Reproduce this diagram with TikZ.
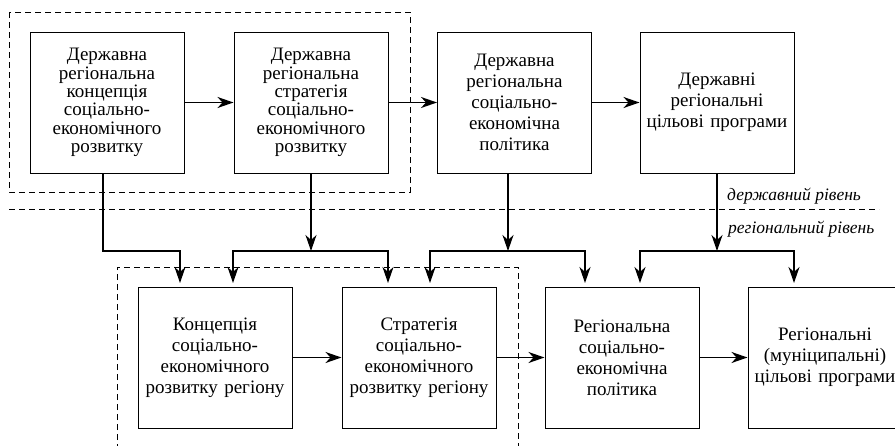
\documentclass[tikz,border=0pt]{standalone}
\usepackage{fontspec}
\setmainfont{Liberation Serif}
\usetikzlibrary{arrows.meta,calc}
\begin{document}
\begin{tikzpicture}[x=1pt,y=-1pt,
  box/.style={draw,line width=1pt,minimum width=154pt,minimum height=141pt,inner sep=0pt,
    text width=152pt,align=center,font=\fontsize{19}{21}\selectfont},
  tight/.style={font=\fontsize{19}{18.3}\selectfont},
  conn/.style={line width=1.6pt},
  arr/.style={conn,-{Stealth[length=16pt,width=11pt,inset=5pt]}},
  grp/.style={line width=0.9pt,dash pattern=on 6pt off 4pt},
  lvl/.style={font=\fontsize{17.5}{18}\selectfont\itshape,inner sep=0pt,anchor=base west}]
\useasboundingbox (0,0) rectangle (895,445);
\begin{scope}
\clip (0,0) rectangle (895,445);
% top row
\node[box,tight] (t1) at (107,102.5) {Державна\\регіональна\\концепція\\соціально-\\економічного\\розвитку};
\node[box,tight] (t2) at (311,102.5) {Державна\\регіональна\\стратегія\\соціально-\\економічного\\розвитку};
\node[box] (t3) at (514.5,102.5) {Державна\\регіональна\\соціально-\\економічна\\політика};
\node[box] (t4) at (717,102.5) {Державні\\регіональні\\цільові програми};
% bottom row
\node[box] (b1) at (215,357.5) {Концепція\\соціально-\\економічного\\розвитку регіону};
\node[box] (b2) at (419,357.5) {Стратегія\\соціально-\\економічного\\розвитку регіону};
\node[box] (b3) at (622,357.5) {Регіональна\\соціально-\\економічна\\політика};
\node[box] (b4) at (825,357.5) {Регіональні\\(муніципальні)\\цільові програми};
% group outlines and level line
\draw[grp] (9,12) rectangle (410,192);
\draw[grp] (117,450) -- (117,267) -- (518,267) -- (518,450);
\coordinate (dl) at (9,209);
\coordinate (dr) at (879,209);
\draw[grp] (dl) -- (dr);
\node[lvl] (lg) at (727,200) {державний рівень};
\node[lvl] (lr) at (728,233) {регіональний рівень};
% horizontal arrows
\draw[arr] (t1.east) -- (t2.west);
\draw[arr] (t2.east) -- (t3.west);
\draw[arr] (t3.east) -- (t4.west);
\draw[arr] (b1.east) -- (b2.west);
\draw[arr] (b2.east) -- (b3.west);
\draw[arr] (b3.east) -- (b4.west);
% branch junctions
\coordinate (j1) at (103,251);
\coordinate (j2) at (311,251);
\coordinate (j3) at (508,251);
\coordinate (j4) at (717,251);
% t1 -> b1
\draw[arr] ($(t1.south)+(-4,0)$) -- (j1) -- (180,251) -- (180,283);
% t2 -> b1, b2
\draw[arr] (t2.south) -- (j2);
\draw[arr] (j2) -| (233,283);
\draw[arr] (j2) -| (388,283);
% t3 -> b2, b3
\draw[arr] ($(t3.south)+(-6.5,0)$) -- (j3);
\draw[arr] (j3) -| (430,283);
\draw[arr] (j3) -| (585,283);
% t4 -> b3, b4
\draw[arr] (t4.south) -- (j4);
\draw[arr] (j4) -| (640,283);
\draw[arr] (j4) -| (794,283);
\end{scope}
\end{tikzpicture}
\end{document}
